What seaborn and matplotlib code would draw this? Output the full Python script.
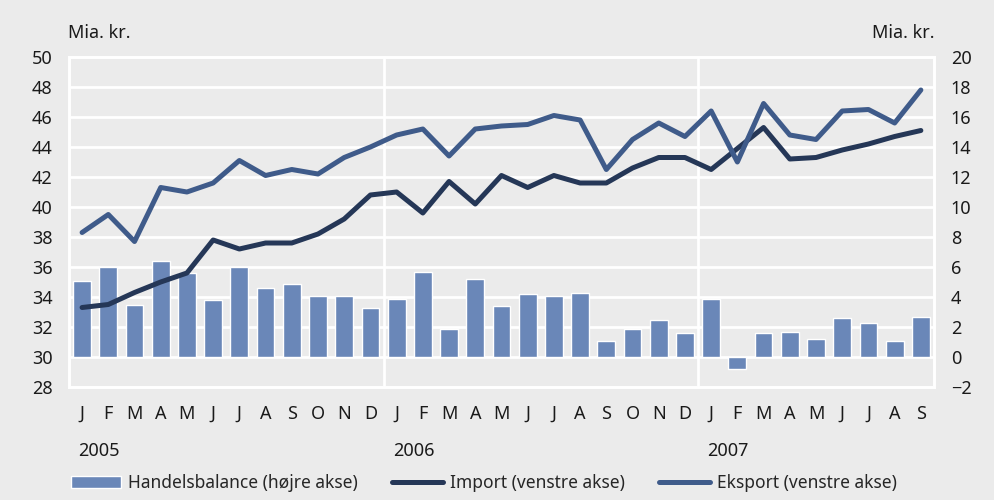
import numpy as np
import pandas as pd
import matplotlib
matplotlib.use("Agg")
import matplotlib.pyplot as plt
import seaborn as sns

# Data, Jan 2005 - Sep 2007

months = list("JFMAMJJASOND") * 2 + list("JFMAMJJAS")
years = ["2005", "2006", "2007"]

handelsbalance = [5.1, 6.0, 3.5, 6.4, 5.6, 3.8, 6.0, 4.6, 4.9, 4.1, 4.1, 3.3,
                  3.9, 5.7, 1.9, 5.2, 3.4, 4.2, 4.1, 4.3, 1.1, 1.9, 2.5, 1.6,
                  3.9, -0.8, 1.6, 1.7, 1.2, 2.6, 2.3, 1.1, 2.7]
import_ = [33.3, 33.5, 34.3, 35.0, 35.6, 37.8, 37.2, 37.6, 37.6, 38.2, 39.2, 40.8,
           41.0, 39.6, 41.7, 40.2, 42.1, 41.3, 42.1, 41.6, 41.6, 42.6, 43.3, 43.3,
           42.5, 43.9, 45.3, 43.2, 43.3, 43.8, 44.2, 44.7, 45.1]
eksport = [38.3, 39.5, 37.7, 41.3, 41.0, 41.6, 43.1, 42.1, 42.5, 42.2, 43.3, 44.0,
           44.8, 45.2, 43.4, 45.2, 45.4, 45.5, 46.1, 45.8, 42.5, 44.5, 45.6, 44.7,
           46.4, 43.0, 46.9, 44.8, 44.5, 46.4, 46.5, 45.6, 47.8]

df = pd.DataFrame({"pos": np.arange(len(months)), "bal": handelsbalance,
                   "imp": import_, "eks": eksport})

# Style

sns.set_theme(style="white")
plt.rcParams["font.family"] = ["Noto Sans", "DejaVu Sans"]

bg = "#ebebeb"
plot_bg = "#dcdcdc"
bar_col = "#6a87b8"
imp_col = "#253757"
eks_col = "#3f5b8a"
txt = "#1a1a1a"
fs = 13

fig = plt.figure(figsize=(9.94, 5.0), dpi=100, facecolor=bg)
ax = fig.add_axes([0.0694, 0.226, 0.8702, 0.660])
ax2 = ax.twinx()
ax.set_zorder(ax2.get_zorder() + 1)
ax.patch.set_visible(False)
ax2.set_facecolor(plot_bg)

# Bars on the right axis
sns.barplot(data=df, x="pos", y="bal", ax=ax2, color=bar_col, width=0.68,
            saturation=1, label="Handelsbalance (højre akse)", zorder=3)
ax2.set_ylim(-2, 20)
ax2.set_yticks(np.arange(-2, 21, 2))
ax2.yaxis.grid(True, color="white", lw=2)
ax2.set_axisbelow(True)
for xv in [11.5, 23.5]:
    ax2.axvline(xv, color="white", lw=2, zorder=1)

# Lines on the left axis
sns.lineplot(data=df, x="pos", y="imp", ax=ax, color=imp_col, lw=3.6,
             label="Import (venstre akse)", solid_capstyle="round")
sns.lineplot(data=df, x="pos", y="eks", ax=ax, color=eks_col, lw=3.6,
             label="Eksport (venstre akse)", solid_capstyle="round")
ax.set_ylim(28, 50)
ax.set_yticks(np.arange(28, 51, 2))
ax.set_xlim(-0.5, len(months) - 0.5)
ax.set_xticks(df["pos"])
ax.set_xticklabels(months)

for a in (ax, ax2):
    a.set_xlabel("")
    a.set_ylabel("")
    a.tick_params(length=0, labelsize=fs, colors=txt)
    for s in a.spines.values():
        s.set_color("white")
        s.set_linewidth(2)
ax.tick_params(axis="x", pad=13)
ax.tick_params(axis="y", pad=12)
ax2.tick_params(axis="y", pad=12)

# Year labels
for i, yr in enumerate(years):
    ax.text(i * 12 - 0.15, -0.195, yr, transform=ax.get_xaxis_transform(),
            ha="left", va="center", fontsize=fs, color=txt)

# Units
fig.text(68 / 994, 1 - 33 / 500, "Mia. kr.", ha="left", va="center",
         fontsize=fs, color=txt)
fig.text(935 / 994, 1 - 33 / 500, "Mia. kr.", ha="right", va="center",
         fontsize=fs, color=txt)

# Legend
h1, l1 = ax2.get_legend_handles_labels()
h2, l2 = ax.get_legend_handles_labels()
if ax.get_legend():
    ax.get_legend().remove()
if ax2.get_legend():
    ax2.get_legend().remove()
fig.legend(h1 + h2, l1 + l2, loc="center", bbox_to_anchor=(0.4864, 1 - 483 / 500),
           ncol=3, frameon=False, fontsize=12.5, handlelength=2.9,
           handletextpad=0.4, columnspacing=2.0)

fig.savefig("out.png", dpi=100, facecolor=bg)
